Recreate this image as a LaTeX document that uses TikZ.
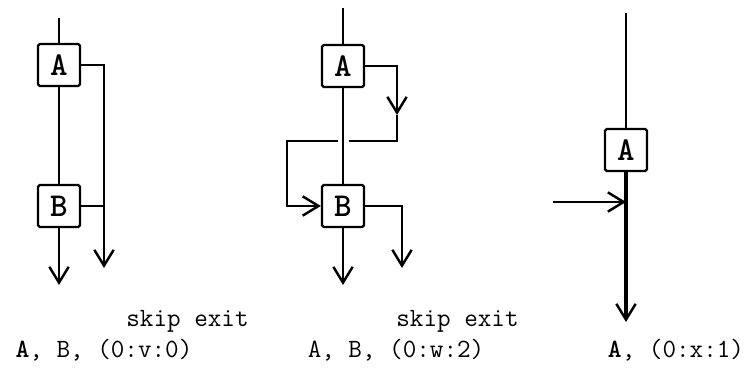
\documentclass[tikz,border=0pt]{standalone}
\usetikzlibrary{arrows.meta}
\tikzset{
  box/.style = {draw, line width = 1.3pt, rounded corners = 1pt,
    minimum size = 0.84cm, inner sep = 0pt, font = \ttfamily\bfseries\fontsize{19}{21}\selectfont},
  flow/.style = {line width = 1.5pt},
  barb/.style = {-{Straight Barb[length = 9pt, width = 11pt, line width = 1.4pt]}},
  caption/.style = {font = \ttfamily\fontsize{15}{17}\selectfont, inner sep = 0pt}
}
\begin{document}
\begin{tikzpicture}
      \useasboundingbox (0, 0) rectangle (15, 7.8);

      % v : skip exit from A and from B
      \node[box] (a1) at (1.18, 6.5) {A};
      \node[box] (b1) at (1.18, 3.68) {B};
      \coordinate (in1) at (1.18, 7.44);
      \coordinate (s1) at (2.08, 6.5);
      \coordinate (out1) at (1.18, 2.1);
      \coordinate (x1) at (2.08, 2.44);
      \draw[flow] (in1) -- (a1);
      \draw[flow] (a1) -- (b1);
      \draw[flow, barb] (b1) -- (out1);
      \draw[flow, barb] (a1.east) -- (s1) -- (x1);
      \draw[flow] (b1.east) -- (b1.east -| s1);

      % w : A skips to B's side entry
      \node[box] (a2) at (6.86, 6.48) {A};
      \node[box] (b2) at (6.86, 3.68) {B};
      \coordinate (in2) at (6.86, 7.64);
      \coordinate (s2) at (7.94, 6.48);
      \coordinate (m2) at (7.94, 5.5);
      \coordinate (t2) at (7.94, 4.98);
      \coordinate (l2) at (5.74, 4.98);
      \coordinate (out2) at (6.86, 2.1);
      \coordinate (x2) at (8.04, 2.44);
      \draw[flow] (in2) -- (a2);
      \draw[flow] (a2) -- (b2);
      \draw[flow, barb] (b2) -- (out2);
      \draw[flow, barb] (a2.east) -- (s2) -- (m2);
      \draw[flow] (m2) -- (t2) -- (6.98, 4.98);
      \draw[flow, barb] (6.76, 4.98) -- (l2) |- (b2.west);
      \draw[flow, barb] (b2.east) -| (x2);

      % x : entry into the line below A
      \node[box] (a3) at (12.52, 4.8) {A};
      \coordinate (in3) at (12.52, 7.54);
      \coordinate (out3) at (12.52, 1.36);
      \coordinate (e3) at (11.06, 3.76);
      \draw[flow] (in3) -- (a3);
      \draw[flow, line width = 2.1pt, barb] (a3) -- (out3);
      \draw[flow, barb] (e3) -- (e3 -| a3.south);

      \node[caption] (k1) at (3.75, 1.38) {skip exit};
      \node[caption] (k2) at (9.15, 1.38) {skip exit};
      \node[caption] (c1) at (2.08, 0.8) {\textbf{A}, B, (0:v:0)};
      \node[caption] (c2) at (7.92, 0.8) {A, B, (0:w:2)};
      \node[caption] (c3) at (13.52, 0.8) {\textbf{A}, (0:x:1)};

    \end{tikzpicture}
\end{document}
